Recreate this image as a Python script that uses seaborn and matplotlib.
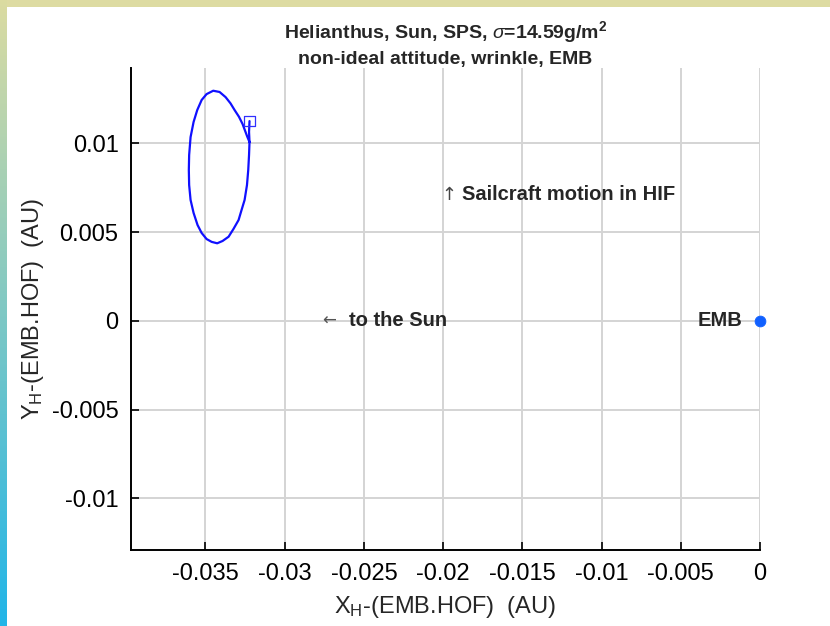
import numpy as np
import pandas as pd
import matplotlib
matplotlib.use("Agg")
import matplotlib.pyplot as plt
import seaborn as sns

# Sailcraft trajectory relative to the Earth-Moon barycentre (AU)
traj_x = [-0.03222, -0.03225, -0.03222, -0.03225, -0.03230, -0.03238, -0.03253,
          -0.03272, -0.03291, -0.03323, -0.03354, -0.03392, -0.03426, -0.03461,
          -0.03493, -0.03524, -0.03550, -0.03575, -0.03594, -0.03603, -0.03605,
          -0.03603, -0.03594, -0.03575, -0.03552, -0.03524, -0.03493, -0.03451,
          -0.03411, -0.03373, -0.03342, -0.03316, -0.03289, -0.03266, -0.03236,
          -0.03222]
traj_y = [0.01125, 0.01064, 0.01007, 0.00934, 0.00850, 0.00765, 0.00681,
          0.00625, 0.00568, 0.00518, 0.00474, 0.00450, 0.00437, 0.00445,
          0.00461, 0.00495, 0.00540, 0.00608, 0.00681, 0.00765, 0.00850,
          0.00934, 0.01035, 0.01120, 0.01187, 0.01244, 0.01277, 0.01296,
          0.01289, 0.01260, 0.01225, 0.01187, 0.01150, 0.01109, 0.01037,
          0.01007]

start_x, start_y = [-0.03222], [0.01125]
emb_x, emb_y = [0.0], [0.0]

x_ticks = [-0.035, -0.03, -0.025, -0.02, -0.015, -0.01, -0.005, 0.0]
x_tick_labels = ["-0.035", "-0.03", "-0.025", "-0.02", "-0.015", "-0.01", "-0.005", "0"]
y_ticks = [-0.01, -0.005, 0.0, 0.005, 0.01]
y_tick_labels = ["-0.01", "-0.005", "0", "0.005", "0.01"]

sns.set_theme(style="white")
plt.rcParams["font.family"] = ["Liberation Sans", "DejaVu Sans"]
plt.rcParams["mathtext.fontset"] = "custom"
plt.rcParams["mathtext.rm"] = "Liberation Sans"
plt.rcParams["mathtext.it"] = "Liberation Sans:italic"
plt.rcParams["mathtext.bf"] = "Liberation Sans:bold"

W, H = 830, 626
fig = plt.figure(figsize=(W / 100, H / 100), dpi=100)
fig.patch.set_facecolor("white")

# decorative frame: yellow strip on top, gradient strip on the left
top = fig.add_axes([0, 1 - 7 / H, 1, 7 / H])
top.set_axis_off()
top.add_patch(plt.Rectangle((0, 0), 1, 1, color="#dddba2", transform=top.transAxes))
left = fig.add_axes([0, 0, 6 / W, 1])
grad = np.linspace(0, 1, 256)[:, None]
c_top = np.array([0.86, 0.86, 0.63])
c_bot = np.array([0.13, 0.71, 0.91])
img = (c_top[None, None, :] * (1 - grad[..., None]) + c_bot[None, None, :] * grad[..., None])
left.imshow(img, aspect="auto", extent=[0, 1, 0, 1])
left.set_axis_off()

ax = fig.add_axes([131 / W, 1 - 550 / H, (760 - 131) / W, (550 - 68) / H])
ax.set_facecolor("white")

df = pd.DataFrame({"x": traj_x, "y": traj_y})
sns.lineplot(data=df, x="x", y="y", sort=False, estimator=None, color="#1010ff",
             linewidth=1.6, ax=ax, zorder=3)
sns.scatterplot(x=start_x, y=start_y, marker="s", s=60, facecolor="none",
                edgecolor="#3030ff", linewidth=0.9, ax=ax, zorder=4)
sns.scatterplot(x=emb_x, y=emb_y, marker="o", s=60, color="#1060ff",
                edgecolor="#1060ff", ax=ax, zorder=5, clip_on=False)

ax.set_xlim(-0.0397, 0.0)
ax.set_ylim(-0.0129, 0.01424)
ax.set_xticks(x_ticks)
ax.set_xticklabels(x_tick_labels)
ax.set_yticks(y_ticks)
ax.set_yticklabels(y_tick_labels)
ax.grid(True, color="#d4d4d4", linewidth=1.4)
ax.set_axisbelow(True)
for s in ["top", "right"]:
    ax.spines[s].set_visible(False)
for s in ["left", "bottom"]:
    ax.spines[s].set_color("black")
    ax.spines[s].set_linewidth(1.4)
ax.tick_params(direction="in", length=6, width=1.2, colors="black",
               labelsize=17, pad=9, left=True, bottom=True)

ax.set_xlabel(r"X$_{\mathrm{H}}$-(EMB.HOF)  (AU)", fontsize=17, labelpad=7)
ax.set_ylabel(r"Y$_{\mathrm{H}}$-(EMB.HOF)  (AU)", fontsize=17, labelpad=4)
ax.set_title("Helianthus, Sun, SPS, $\\mathit{\\sigma}$=14.59g/m$^{\\mathbf{2}}$\n"
             "non-ideal attitude, wrinkle, EMB",
             fontsize=14, fontweight="bold", linespacing=1.45, pad=3)

# annotations
ax.text(-0.02008, 0.00709, "\u2191", fontsize=13, color="#444444",
        family="DejaVu Sans", ha="left", va="center")
ax.text(-0.01879, 0.00709, "Sailcraft motion in HIF", fontsize=14.5,
        fontweight="bold", ha="left", va="center")
ax.text(-0.02762, 0.0, "\u2190", fontsize=12, color="#555555",
        family="DejaVu Sans", ha="left", va="center")
ax.text(-0.02591, 0.0, "to the Sun", fontsize=14.5, fontweight="bold",
        ha="left", va="center")
ax.text(-0.00113, 0.0, "EMB", fontsize=14.5, fontweight="bold",
        ha="right", va="center")

fig.savefig("out.png", dpi=100, facecolor="white")
